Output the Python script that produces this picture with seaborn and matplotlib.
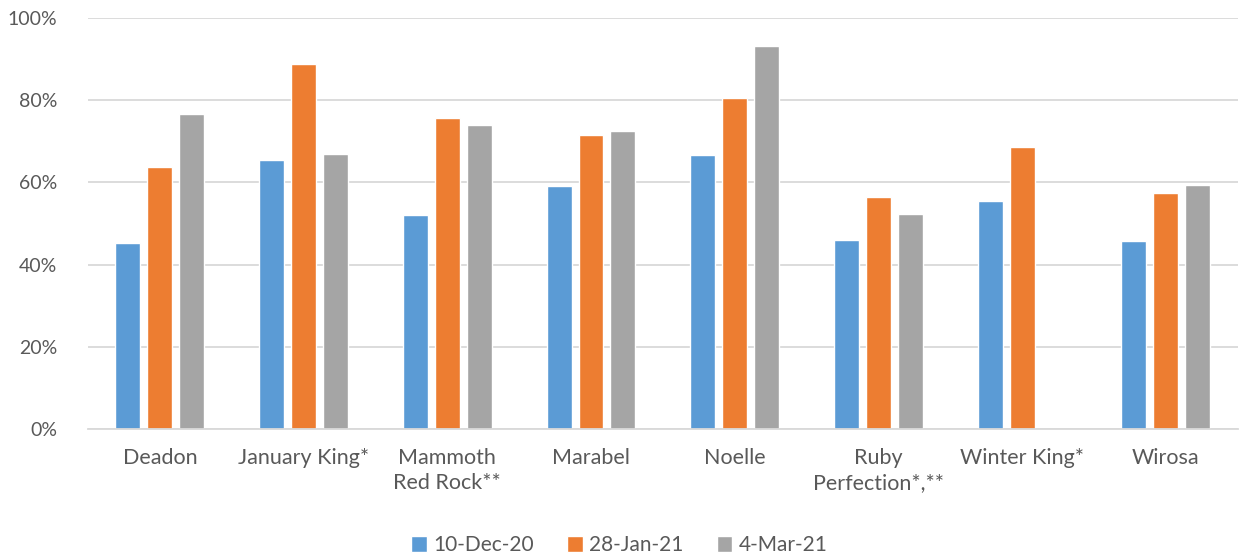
import numpy as np
import pandas as pd
import matplotlib
matplotlib.use("Agg")
import matplotlib.pyplot as plt
import seaborn as sns
from matplotlib.patches import Patch

varieties = ["Deadon", "January King*", "Mammoth\nRed Rock**", "Marabel", "Noelle",
             "Ruby\nPerfection*,**", "Winter King*", "Wirosa"]
dates = ["10-Dec-20", "28-Jan-21", "4-Mar-21"]
dec_20 = [45.2, 65.4, 52.0, 59.1, 66.7, 46.0, 55.5, 45.8]
jan_21 = [63.7, 88.8, 75.6, 71.5, 80.5, 56.4, 68.7, 57.3]
mar_21 = [76.6, 66.9, 74.0, 72.5, 93.2, 52.3, np.nan, 59.3]
colors = ["#5B9BD5", "#ED7D31", "#A5A5A5"]

rows = []
for d, vals in zip(dates, [dec_20, jan_21, mar_21]):
    for v, val in zip(varieties, vals):
        rows.append({"variety": v, "date": d, "pct": val})
df = pd.DataFrame(rows)

sns.set_style("white")
plt.rcParams["font.family"] = ["Lato", "DejaVu Sans"]
text_col = "#595959"

fig = plt.figure(figsize=(12.39, 5.6), dpi=100)
ax = fig.add_axes([0.071, 0.234, 0.928, 0.734])

sns.barplot(data=df, x="variety", y="pct", hue="date", hue_order=dates,
            palette=colors, width=0.667, gap=0.22, saturation=1,
            order=varieties, ax=ax, legend=False)

ax.set_ylim(0, 100)
ax.set_xlim(-0.5, len(varieties) - 0.5)
ax.set_yticks(range(0, 101, 20))
ax.set_yticklabels([f"{t}%" for t in range(0, 101, 20)], fontsize=14)
ax.yaxis.grid(True, color="#D9D9D9", linewidth=1.3)
ax.set_axisbelow(True)
for s in ["left", "right", "top"]:
    ax.spines[s].set_visible(False)
ax.spines["bottom"].set_color("#D9D9D9")
ax.spines["bottom"].set_linewidth(1.3)
ax.tick_params(axis="both", length=0, colors=text_col)
ax.tick_params(axis="x", pad=14, labelsize=15.5)
ax.tick_params(axis="y", pad=22)
for lbl in ax.get_xticklabels():
    lbl.set_linespacing(1.3)
ax.set_xlabel("")
ax.set_ylabel("")

handles = [Patch(facecolor=c, label=d) for c, d in zip(colors, dates)]
fig.legend(handles=handles, loc="lower center", ncol=3, frameon=False,
           bbox_to_anchor=(0.5, -0.025), fontsize=15, labelcolor=text_col,
           handlelength=0.75, handleheight=0.75, handletextpad=0.3, columnspacing=1.6)

fig.savefig("out.png", dpi=100)
